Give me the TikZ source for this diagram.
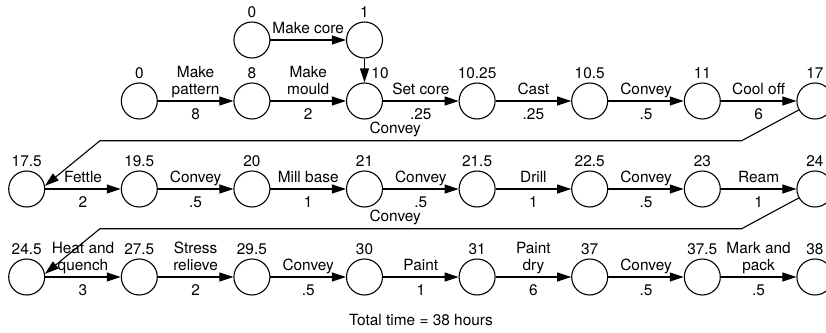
\documentclass[tikz,border=0pt]{standalone}
\usepackage{fontspec}
\setmainfont{TeX Gyre Heros}
\usetikzlibrary{arrows.meta}
\tikzset{
  st/.style={circle, draw, line width=1.1pt, minimum size=36pt, inner sep=0pt},
  arr/.style={draw, line width=1.1pt, -{Triangle[length=14pt,width=9pt]}},
  num/.style={anchor=base, inner sep=0pt},
  ab/.style={anchor=base, inner sep=0pt, yshift=7pt, align=center},
  be/.style={anchor=base, inner sep=0pt, yshift=-18.5pt},
}
\begin{document}
\begin{tikzpicture}[x=1pt,y=-1pt,font=\fontsize{15.4}{16.5}\selectfont]
\useasboundingbox (0,0) rectangle (826,332);
% top row
\node[st] (t0) at (251.9,40) {};
\node[st] (t1) at (364.5,40) {};
\node[num] (t0n) at (251.9,17.5) {0};
\node[num] (t1n) at (364.5,17.5) {1};
% row 2
\node[st] (a0) at (139.3,101) {};
\node[st] (a8) at (251.9,101) {};
\node[st] (a10) at (364.5,101) {};
\node[st] (a1025) at (477.1,101) {};
\node[st] (a105) at (589.7,101) {};
\node[st] (a11) at (702.3,101) {};
\node[st] (a17) at (814.9,101) {};
\node[num] (a0n) at (139.3,78.5) {0};
\node[num] (a8n) at (251.9,78.5) {8};
\node[num] (a10n) at (380,78.5) {10};
\node[num] (a1025n) at (477.1,78.5) {10.25};
\node[num] (a105n) at (589.7,78.5) {10.5};
\node[num] (a11n) at (702.3,78.5) {11};
\node[num] (a17n) at (814.9,78.5) {17};
% row 3
\node[st] (b175) at (26.7,189) {};
\node[st] (b195) at (139.3,189) {};
\node[st] (b20) at (251.9,189) {};
\node[st] (b21) at (364.5,189) {};
\node[st] (b215) at (477.1,189) {};
\node[st] (b225) at (589.7,189) {};
\node[st] (b23) at (702.3,189) {};
\node[st] (b24) at (814.9,189) {};
\node[num] (b175n) at (26.7,166.5) {17.5};
\node[num] (b195n) at (139.3,166.5) {19.5};
\node[num] (b20n) at (251.9,166.5) {20};
\node[num] (b21n) at (364.5,166.5) {21};
\node[num] (b215n) at (477.1,166.5) {21.5};
\node[num] (b225n) at (589.7,166.5) {22.5};
\node[num] (b23n) at (702.3,166.5) {23};
\node[num] (b24n) at (814.9,166.5) {24};
% row 4
\node[st] (d245) at (26.7,277) {};
\node[st] (d275) at (139.3,277) {};
\node[st] (d295) at (251.9,277) {};
\node[st] (d30) at (364.5,277) {};
\node[st] (d31) at (477.1,277) {};
\node[st] (d37) at (589.7,277) {};
\node[st] (d375) at (702.3,277) {};
\node[st] (d38) at (814.9,277) {};
\node[num] (d245n) at (26.7,254.5) {24.5};
\node[num] (d275n) at (139.3,254.5) {27.5};
\node[num] (d295n) at (251.9,254.5) {29.5};
\node[num] (d30n) at (364.5,254.5) {30};
\node[num] (d31n) at (477.1,254.5) {31};
\node[num] (d37n) at (589.7,254.5) {37};
\node[num] (d375n) at (702.3,254.5) {37.5};
\node[num] (d38n) at (814.9,254.5) {38};
% connectors
\draw[arr] (t0) -- node[ab]{Make core} (t1);
\draw[arr] (t1) -- (a10);
\draw[arr] (a0) -- node[ab]{Make\\pattern} node[be]{8} (a8);
\draw[arr] (a8) -- node[ab]{Make\\mould} node[be]{2} (a10);
\draw[arr] (a10) -- node[ab]{Set core} node[be]{.25} (a1025);
\draw[arr] (a1025) -- node[ab]{Cast} node[be]{.25} (a105);
\draw[arr] (a105) -- node[ab]{Convey} node[be]{.5} (a11);
\draw[arr] (a11) -- node[ab]{Cool off} node[be]{6} (a17);
\coordinate (k1) at (741.7,140.7);
\coordinate (k2) at (100,140.7);
\draw[arr] (a17.209) -- (k1) -- node[ab,pos=0.54]{Convey} (k2) -- (b175.10);
\draw[arr] (b175) -- node[ab]{Fettle} node[be]{2} (b195);
\draw[arr] (b195) -- node[ab]{Convey} node[be]{.5} (b20);
\draw[arr] (b20) -- node[ab]{Mill base} node[be]{1} (b21);
\draw[arr] (b21) -- node[ab]{Convey} node[be]{.5} (b215);
\draw[arr] (b215) -- node[ab]{Drill} node[be]{1} (b225);
\draw[arr] (b225) -- node[ab]{Convey} node[be]{.5} (b23);
\draw[arr] (b23) -- node[ab]{Ream} node[be]{1} (b24);
\coordinate (m1) at (741.7,228.7);
\coordinate (m2) at (100,228.7);
\draw[arr] (b24.209) -- (m1) -- node[ab,pos=0.54]{Convey} (m2) -- (d245.10);
\draw[arr] (d245) -- node[ab]{Heat and\\quench} node[be]{3} (d275);
\draw[arr] (d275) -- node[ab]{Stress\\relieve} node[be]{2} (d295);
\draw[arr] (d295) -- node[ab]{Convey} node[be]{.5} (d30);
\draw[arr] (d30) -- node[ab]{Paint} node[be]{1} (d31);
\draw[arr] (d31) -- node[ab]{Paint\\dry} node[be]{6} (d37);
\draw[arr] (d37) -- node[ab]{Convey} node[be]{.5} (d375);
\draw[arr] (d375) -- node[ab]{Mark and\\pack} node[be]{.5} (d38);
\node[num] (total) at (421,325) {Total time = 38 hours};
\end{tikzpicture}
\end{document}
